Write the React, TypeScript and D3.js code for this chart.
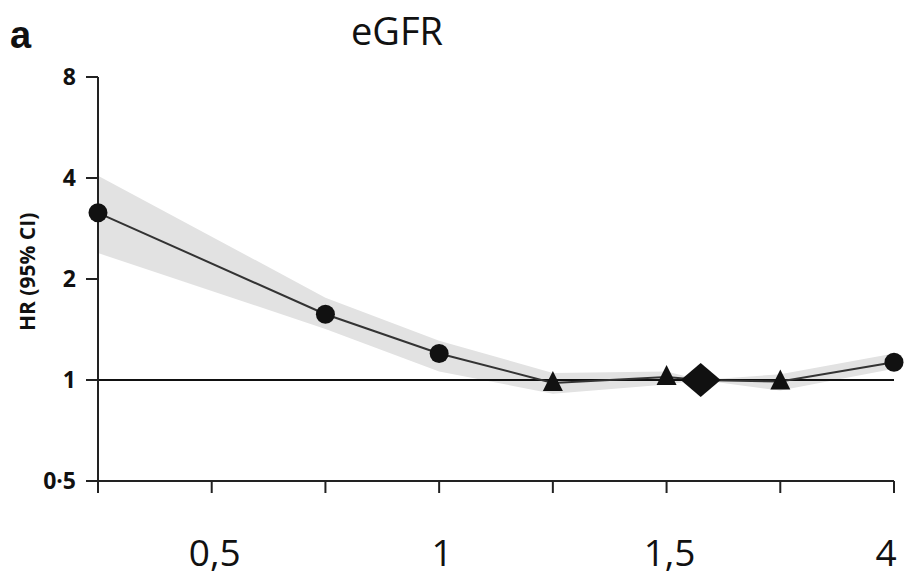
import React from "react";
import * as d3 from "d3";

// x positions on a 0..7 index axis (ticks at every integer)
const xTicks = [0, 1, 2, 3, 4, 5, 6, 7];
const xLabelPos = [1, 3, 5, 7];
const xLabels = ["0,5", "1", "1,5", "4"];

const yTicks = [0.5, 1, 2, 4, 8];
const yTickLabels = ["0·5", "1", "2", "4", "8"];

const pointX = [0, 2, 3, 4, 5, 5.3, 6, 7];
const hr = [3.15, 1.57, 1.2, 0.98, 1.02, 1, 0.99, 1.13];
const ciLow = [2.39, 1.42, 1.06, 0.91, 0.97, 1, 0.93, 1.08];
const ciHigh = [4.06, 1.76, 1.31, 1.05, 1.06, 1, 1.04, 1.2];
const shapes = ["circle", "circle", "circle", "triangle", "triangle", "diamond", "triangle", "circle"];

const W = 908;
const H = 578;
const margin = { top: 77, right: 14, bottom: 97, left: 98 };

export default function App() {
  const x = d3.scaleLinear().domain([0, 7]).range([margin.left, W - margin.right]);
  const y = d3.scaleLog().base(2).domain([0.5, 8]).range([H - margin.bottom, margin.top]);

  const rows = pointX.map((px, i) => ({ px, hr: hr[i], lo: ciLow[i], hi: ciHigh[i], shape: shapes[i] }));

  const band = d3.area<any>().x(d => x(d.px)).y0(d => y(d.lo)).y1(d => y(d.hi))(rows) || "";
  const line = d3.line<any>().x(d => x(d.px)).y(d => y(d.hr))(rows) || "";

  const tickFont = "'Open Sans', 'DejaVu Sans', sans-serif";
  const x0 = margin.left;
  const yBase = H - margin.bottom;

  return (
    <svg width={W} height={H} style={{ position: "absolute", left: 0, top: 0, background: "#fff" }}>
      <text x={10} y={48} fontFamily="'Liberation Sans', Arial, sans-serif" fontWeight="bold" fontSize={38} fill="#111">a</text>
      <text x={397} y={45} textAnchor="middle" fontFamily={tickFont} fontSize={38} fill="#111">eGFR</text>

      <path d={band} fill="#e2e2e2" stroke="none" />

      {/* reference line at HR = 1 */}
      <line x1={x0} x2={x(7)} y1={y(1)} y2={y(1)} stroke="#111" strokeWidth={2} />

      {/* y axis */}
      <line x1={x0} x2={x0} y1={y(8)} y2={yBase} stroke="#222" strokeWidth={2} />
      {yTicks.map((t, i) => (
        <g key={t}>
          <line x1={x0 - 12} x2={x0} y1={y(t)} y2={y(t)} stroke="#222" strokeWidth={2} />
          <text x={x0 - 22} y={y(t)} dy="0.36em" textAnchor="end" fontFamily={tickFont} fontWeight="bold" fontSize={23} fill="#111">
            {yTickLabels[i]}
          </text>
        </g>
      ))}
      <text transform={`translate(28, ${y(2.1)}) rotate(-90)`} textAnchor="middle" dy="0.35em"
        fontFamily={tickFont} fontWeight="bold" fontSize={21} fill="#111">HR (95% CI)</text>

      {/* x axis */}
      <line x1={x0} x2={x(7)} y1={yBase} y2={yBase} stroke="#222" strokeWidth={2} />
      {xTicks.map(t => (
        <line key={t} x1={x(t)} x2={x(t)} y1={yBase} y2={yBase + 12} stroke="#222" strokeWidth={2} />
      ))}
      {xLabelPos.map((p, i) => (
        <text key={p} x={i === xLabelPos.length - 1 ? x(p) - 8 : x(p) + 3} y={566} textAnchor="middle" fontFamily={tickFont} fontSize={37} fill="#111">
          {xLabels[i]}
        </text>
      ))}

      <path d={line} fill="none" stroke="#333" strokeWidth={2} />

      {rows.map((d, i) => {
        const cx = x(d.px);
        const cy = y(d.hr);
        if (d.shape === "circle") return <circle key={i} cx={cx} cy={cy} r={9.5} fill="#111" />;
        if (d.shape === "triangle")
          return <path key={i} d={`M${cx},${cy - 12} L${cx + 10},${cy + 8} L${cx - 10},${cy + 8} Z`} fill="#111" />;
        return <path key={i} d={`M${cx},${cy - 17} L${cx + 20},${cy} L${cx},${cy + 17} L${cx - 20},${cy} Z`} fill="#111" />;
      })}
    </svg>
  );
}
